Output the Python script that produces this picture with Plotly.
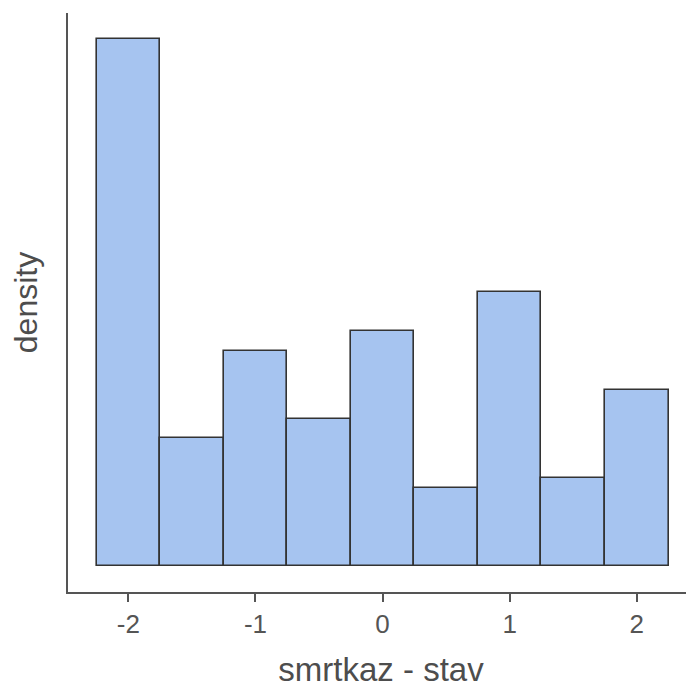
import plotly.graph_objects as go

# Bin centers (bin width 0.5) and densities
bin_centers = [-2.0, -1.5, -1.0, -0.5, 0.0, 0.5, 1.0, 1.5, 2.0]
density = [0.564, 0.137, 0.230, 0.157, 0.252, 0.0835, 0.293, 0.094, 0.188]
bin_width = 0.5
tick_vals = [-2, -1, 0, 1, 2]
tick_text = ["-2", "-1", "0", "1", "2"]

ymax = max(density)

fig = go.Figure(
    go.Bar(
        x=bin_centers,
        y=density,
        width=[bin_width] * len(bin_centers),
        marker=dict(color="#a6c4f0", line=dict(color="#333333", width=1.6)),
        hoverinfo="x+y",
    )
)

# page body has an 8px margin, so the figure is offset by (8, 8)
fig.update_layout(
    width=686,
    height=680,
    paper_bgcolor="white",
    plot_bgcolor="white",
    margin=dict(l=60, r=0, t=5, b=96),
    showlegend=False,
    bargap=0,
    font=dict(family="Liberation Sans, Arial, sans-serif", color="#4d4d4d"),
)

fig.update_xaxes(
    range=[-2.475, 2.45],
    tickvals=tick_vals,
    ticktext=tick_text,
    showline=True,
    linecolor="#555555",
    linewidth=1.5,
    ticks="outside",
    ticklen=8,
    tickwidth=1.5,
    tickcolor="#555555",
    tickfont=dict(size=26, color="#555555"),
    showgrid=False,
    zeroline=False,
    automargin=False,
    title=dict(text="smrtkaz - stav", font=dict(size=33, color="#4d4d4d"), standoff=22),
)

fig.update_yaxes(
    range=[-0.05 * ymax, 1.05 * ymax],
    showline=True,
    linecolor="#555555",
    linewidth=1.5,
    showticklabels=False,
    ticks="",
    showgrid=False,
    zeroline=False,
    automargin=False,
    title=dict(text="density", font=dict(size=32, color="#4d4d4d"), standoff=22),
)

fig.write_html("out.html")
